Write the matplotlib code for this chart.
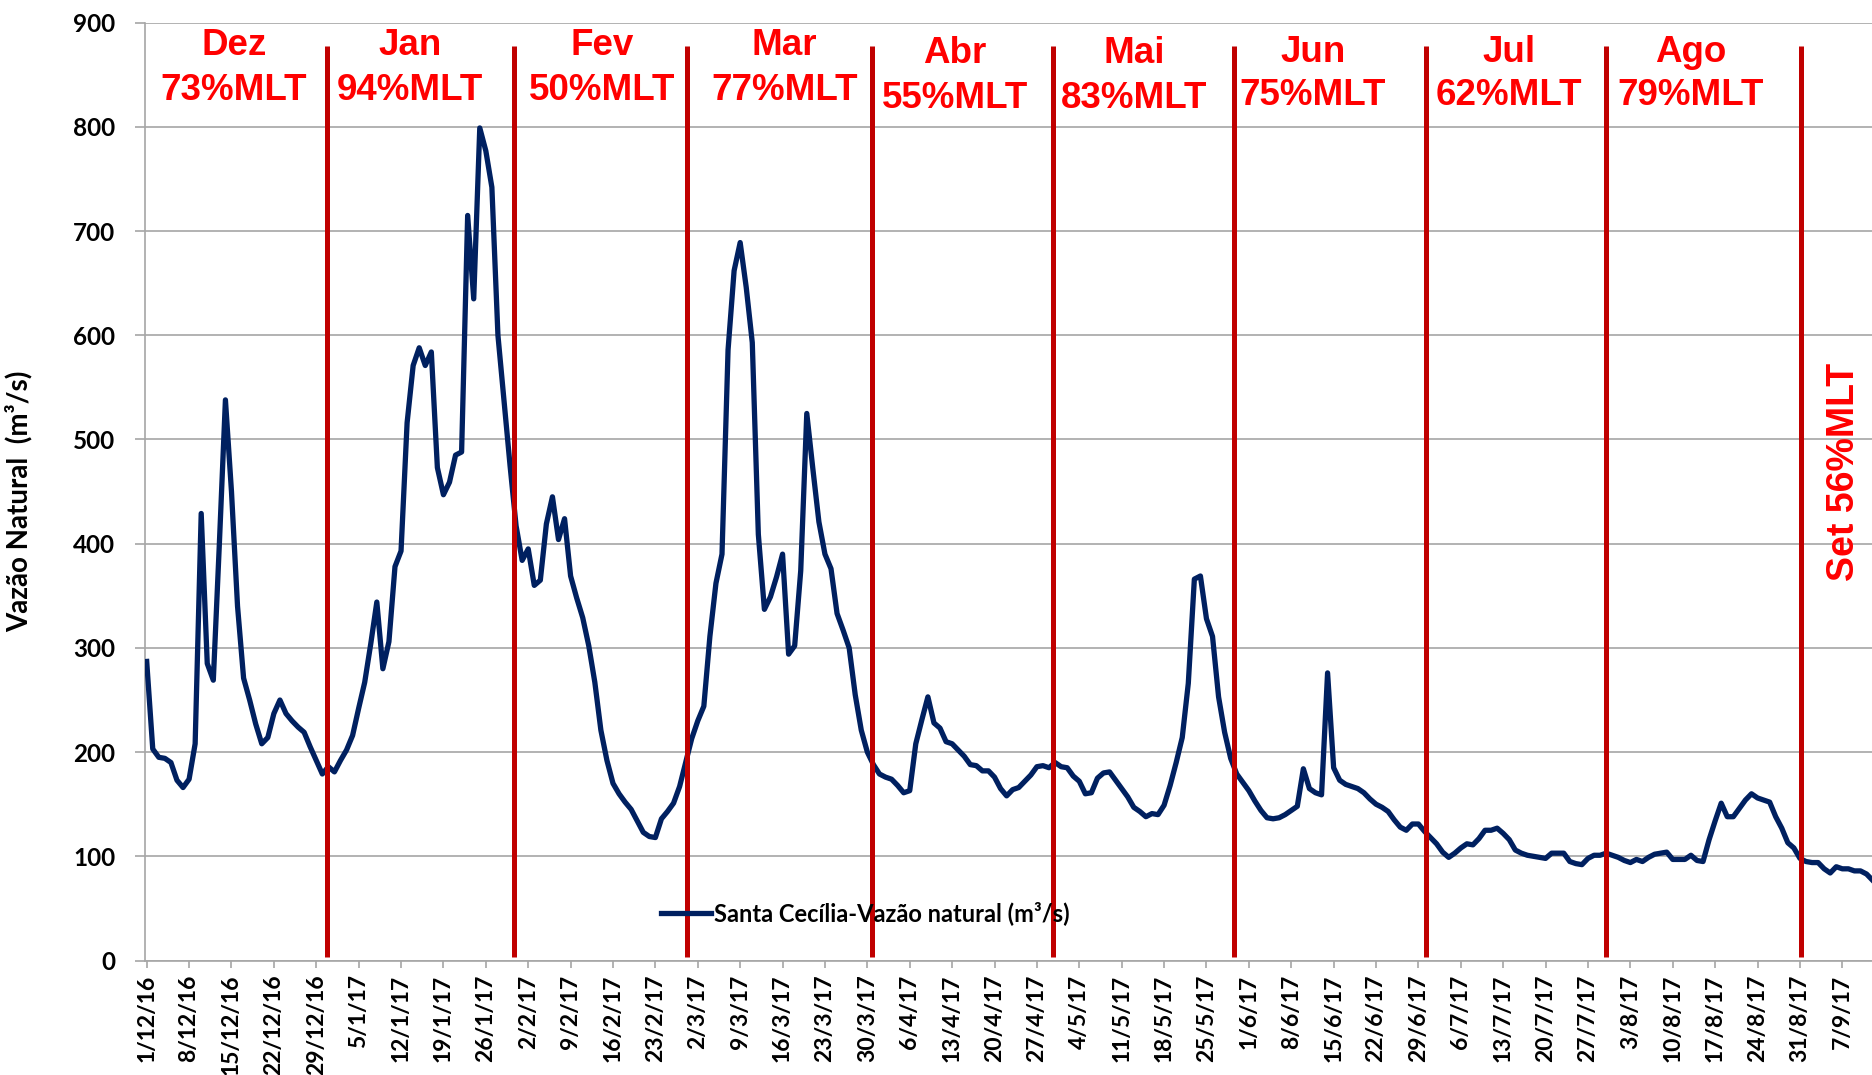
import matplotlib.pyplot as plt
from matplotlib.lines import Line2D
import pandas as pd
import numpy as np

# daily natural flow at Santa Cecília, starting 1/12/2016 (m3/s)
start_date = '2016-12-01'
vazao = [
    287, 203, 195, 194, 190, 173, 166, 174, 208, 429,
    285, 269, 400, 538, 450, 340, 271, 250, 227, 208,
    214, 237, 250, 237, 230, 224, 219, 205, 192, 179,
    186, 181, 192, 202, 216, 242, 267, 304, 344, 280,
    306, 378, 393, 516, 571, 588, 571, 584, 473, 447,
    459, 485, 488, 715, 635, 799, 777, 742, 600, 537,
    475, 417, 384, 395, 360, 365, 419, 445, 404, 424,
    369, 348, 329, 302, 267, 221, 192, 170, 160, 152,
    145, 134, 123, 119, 118, 136, 143, 151, 167, 190,
    213, 230, 244, 311, 362, 390, 586, 662, 689, 646,
    593, 409, 337, 349, 368, 390, 294, 302, 374, 525,
    472, 421, 390, 376, 333, 317, 300, 255, 221, 200,
    188, 179, 176, 174, 168, 161, 163, 208, 231, 253,
    228, 223, 210, 208, 202, 196, 188, 187, 182, 182,
    176, 165, 158, 164, 166, 172, 178, 186, 187, 185,
    190, 186, 185, 177, 172, 160, 161, 175, 180, 181,
    173, 165, 157, 147, 143, 138, 141, 140, 149, 168,
    190, 214, 266, 366, 369, 328, 311, 253, 219, 194,
    179, 171, 163, 153, 144, 137, 136, 137, 140, 144,
    148, 184, 165, 161, 159, 276, 185, 173, 169, 167,
    165, 161, 155, 150, 147, 143, 135, 128, 125, 131,
    131, 124, 118, 112, 104, 99, 103, 108, 112, 111,
    117, 125, 125, 127, 122, 116, 106, 103, 101, 100,
    99, 98, 103, 103, 103, 95, 93, 92, 98, 101,
    101, 103, 101, 99, 96, 94, 97, 95, 99, 102,
    103, 104, 97, 97, 97, 101, 96, 95, 116, 134,
    151, 138, 138, 146, 154, 160, 156, 154, 152, 138,
    127, 113, 108, 98, 95, 94, 94, 88, 84, 90,
    88, 88, 86, 86, 83, 77,
]

# month annotations (% of long-term mean)
meses = ['Dez', 'Jan', 'Fev', 'Mar', 'Abr', 'Mai', 'Jun', 'Jul', 'Ago']
mlt = [73, 94, 50, 77, 55, 83, 75, 62, 79]
set_label = 'Set 56%MLT'

# hand drawn month separators (day index) and label spots
sep_days = [29.8, 60.7, 89.2, 119.7, 149.6, 179.6, 211.3, 241.0, 273.2]
label_days = [14.4, 43.5, 75.2, 105.3, 133.5, 163.1, 192.6, 225.0, 255.0]
label_y1 = [869, 869, 869, 869, 861, 861, 862, 862, 862]
label_y2 = [826, 826, 826, 826, 818, 818, 821, 821, 821]

days = np.arange(len(vazao))
dates = pd.date_range(start_date, periods=len(vazao), freq='D')
tick_days = np.arange(0, len(vazao), 7)
tick_labels = [f'{d.day}/{d.month}/{d.year % 100}' for d in dates[tick_days]]

plt.rcParams['font.family'] = ['Lato', 'DejaVu Sans']
grid_col = '#A6A6A6'
navy = '#002060'

fig = plt.figure(figsize=(18.72, 10.75), dpi=100)
ax = fig.add_axes([0.0772, 0.1065, 0.9228, 0.8724])

ax.plot(days, vazao, color=navy, lw=3.8, solid_joinstyle='round', zorder=3)

ax.set_xlim(-0.36, 284.9)
ax.set_ylim(0, 900)
ax.set_yticks(range(0, 901, 100))
ax.grid(axis='y', color=grid_col, lw=1.2, zorder=0)
ax.set_axisbelow(True)

ax.set_xticks(tick_days)
ax.set_xticklabels(tick_labels, rotation=90, fontsize=16.5, fontweight='bold')
for lab in ax.get_yticklabels():
    lab.set_fontsize(17.5)
    lab.set_fontweight('bold')
ax.tick_params(axis='x', length=5, width=1.2, color=grid_col, pad=5)
ax.tick_params(axis='y', length=7, width=1.2, color=grid_col, pad=14)

for s in ['top', 'right']:
    ax.spines[s].set_visible(False)
for s in ['left', 'bottom']:
    ax.spines[s].set_color(grid_col)
    ax.spines[s].set_linewidth(1.2)

ax.set_ylabel('Vazão Natural  (m³/s)', fontsize=20, fontweight='bold')
ax.yaxis.set_label_coords(-0.0645, 0.49)

# month separators drawn over the series
ax.vlines(sep_days, 3, 878, colors='#C00000', lw=3.6, zorder=4)

red_font = dict(family='Liberation Sans', fontsize=26.5, fontweight='bold',
                color='#FF0000', ha='center', va='baseline', zorder=5)
for m, p, x, y1, y2 in zip(meses, mlt, label_days, label_y1, label_y2):
    ax.text(x, y1, m, **red_font)
    ax.text(x, y2, f'{p}%MLT', **red_font)
ax.text(280.2, 469, set_label, rotation=90, family='Liberation Sans', fontsize=27,
        fontweight='bold', color='#FF0000', ha='center', va='center', zorder=5)

handle = Line2D([], [], color=navy, lw=3.8)
ax.legend([handle], ['Santa Cecília-Vazão natural (m³/s)'], loc='center left',
          bbox_to_anchor=(0.299, 0.0507), frameon=False,
          handlelength=2.1, handletextpad=0.15, borderpad=0, borderaxespad=0,
          prop={'weight': 'bold', 'size': 17})

fig.savefig('out.png', dpi=100)
